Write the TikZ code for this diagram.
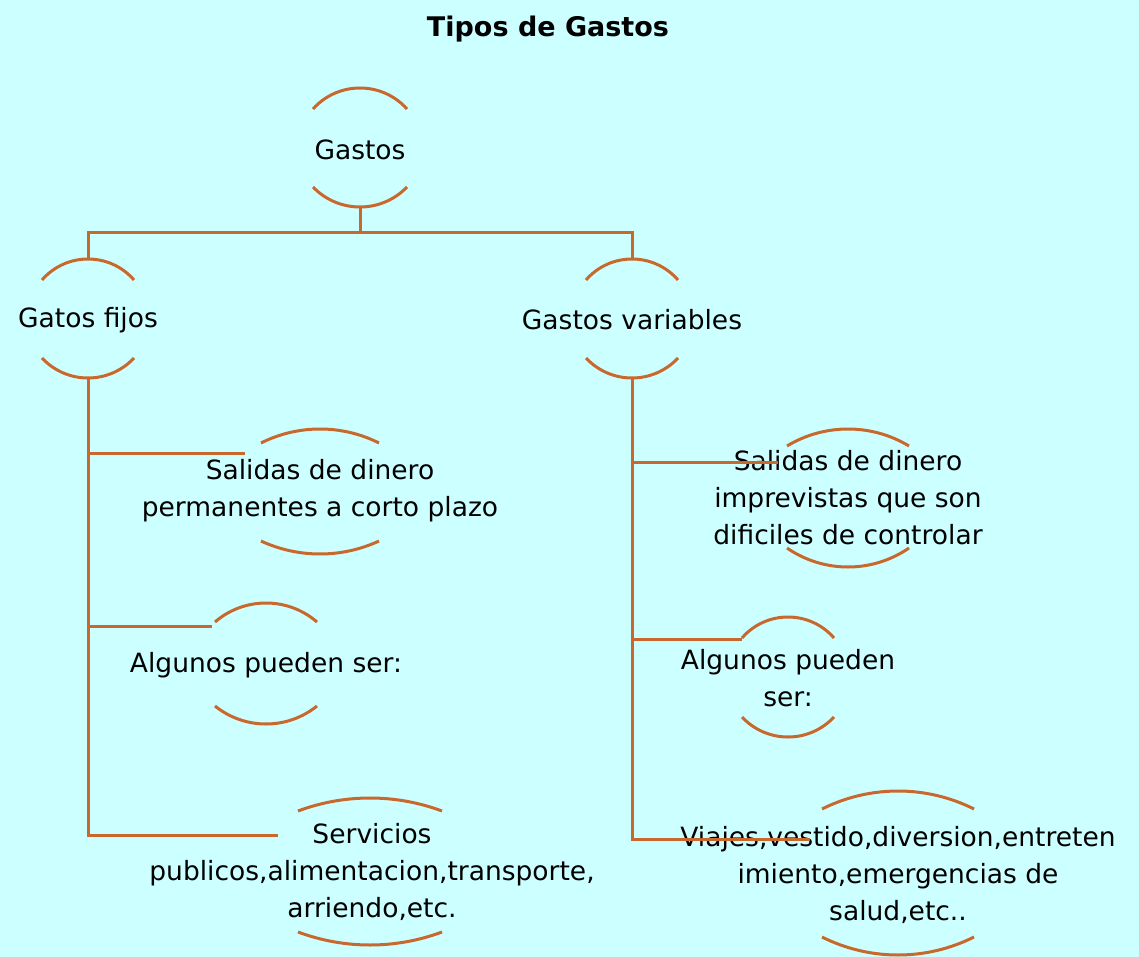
\documentclass[tikz,border=0pt]{standalone}
\usepackage{fontspec}
\setmainfont{DejaVu Sans}
\definecolor{bg}{RGB}{204,255,255}
\definecolor{ln}{RGB}{200,104,44}
\tikzset{
  conn/.style={draw=ln,line width=3pt},
  arcline/.style={draw=ln,line width=3pt},
  txt/.style={align=center,inner sep=0pt,font=\fontsize{26.5}{37}\selectfont},
  ttl/.style={inner sep=0pt,font=\fontsize{27}{32}\selectfont\bfseries}
}
% #1 name, #2 cx, #3 half width, #4 top end y, #5 top apex y, #6 bottom end y, #7 bottom y
\newcommand\ovalarcs[7]{%
  \pgfmathsetmacro\sA{#4-#5}%
  \pgfmathsetmacro\RA{(#3*#3+\sA*\sA)/(2*\sA)}%
  \pgfmathsetmacro\tA{asin(#3/\RA)}%
  \pgfmathsetmacro\kA{4/3*tan(\tA/2)*\RA}%
  \pgfmathsetmacro\dxA{\kA*cos(\tA)}%
  \pgfmathsetmacro\dyA{\kA*sin(\tA)}%
  \pgfmathsetmacro\sB{#7-#6}%
  \pgfmathsetmacro\RB{(#3*#3+\sB*\sB)/(2*\sB)}%
  \pgfmathsetmacro\tB{asin(#3/\RB)}%
  \pgfmathsetmacro\kB{4/3*tan(\tB/2)*\RB}%
  \pgfmathsetmacro\dxB{\kB*cos(\tB)}%
  \pgfmathsetmacro\dyB{\kB*sin(\tB)}%
  \draw[arcline] (#2-#3,#4) .. controls (#2-#3+\dxA,#4-\dyA) and (#2+#3-\dxA,#4-\dyA) .. (#2+#3,#4);
  \draw[arcline] (#2-#3,#6) .. controls (#2-#3+\dxB,#6+\dyB) and (#2+#3-\dxB,#6+\dyB) .. (#2+#3,#6);
  \coordinate (#1-top) at (#2,#5);
  \coordinate (#1-bot) at (#2,#7);
}
\begin{document}
\begin{tikzpicture}[x=1pt,y=-1pt]
\fill[bg] (0,0) rectangle (1139,957);
\useasboundingbox (0,0) rectangle (1139,957);

\node[ttl] (title) at (548,29) {Tipos de Gastos};

\node[txt] (gastos) at (360,150) {Gastos};
\ovalarcs{gastos}{360}{47}{109}{88}{187}{207}

\node[txt] (fijos) at (88,320) {Gatos fijos};
\ovalarcs{fijos}{88}{46}{280}{259}{358}{378}

\node[txt] (var) at (632,320) {Gastos variables};
\ovalarcs{var}{632}{46}{280}{259}{358}{378}

\node[txt] (salL) at (320,491) {Salidas de dinero\\permanentes a corto plazo};
\ovalarcs{salL}{320}{59}{443}{429}{541}{554}

\node[txt] (algL) at (266,665) {Algunos pueden ser:};
\ovalarcs{algL}{266}{51}{622}{603}{706}{724}

\node[txt] (servL) at (372,872) {Servicios\\publicos,alimentacion,transporte,\\arriendo,etc.};
\ovalarcs{servL}{370}{72}{811}{798}{932}{945}

\node[txt] (salR) at (848,498) {Salidas de dinero\\imprevistas que son\\dificiles de controlar};
\ovalarcs{salR}{848}{61}{446}{429}{548}{567}

\node[txt] (algR) at (788,678) {Algunos pueden\\ser:};
\ovalarcs{algR}{788}{46}{638}{617}{717}{737}

\node[txt] (viaR) at (898,875) {Viajes,vestido,diversion,entreten\\imiento,emergencias de\\salud,etc..};
\ovalarcs{viaR}{898}{76}{809}{791}{937}{955}

% connectors
\coordinate (jg) at (360,233);
\draw[conn] (gastos-bot) -- (jg);
\draw[conn] (fijos-top) |- (jg) -| (var-top);

\coordinate (salL-w) at (245,453);
\coordinate (algL-w) at (212,626);
\coordinate (servL-w) at (278,835);
\draw[conn] (fijos-bot) |- (servL-w);
\draw[conn] (fijos-bot |- salL-w) -- (salL-w);
\draw[conn] (fijos-bot |- algL-w) -- (algL-w);

\coordinate (salR-w) at (778,462);
\coordinate (algR-w) at (742,639);
\coordinate (viaR-w) at (810,839);
\draw[conn] (var-bot) |- (viaR-w);
\draw[conn] (var-bot |- salR-w) -- (salR-w);
\draw[conn] (var-bot |- algR-w) -- (algR-w);
\end{tikzpicture}
\end{document}
